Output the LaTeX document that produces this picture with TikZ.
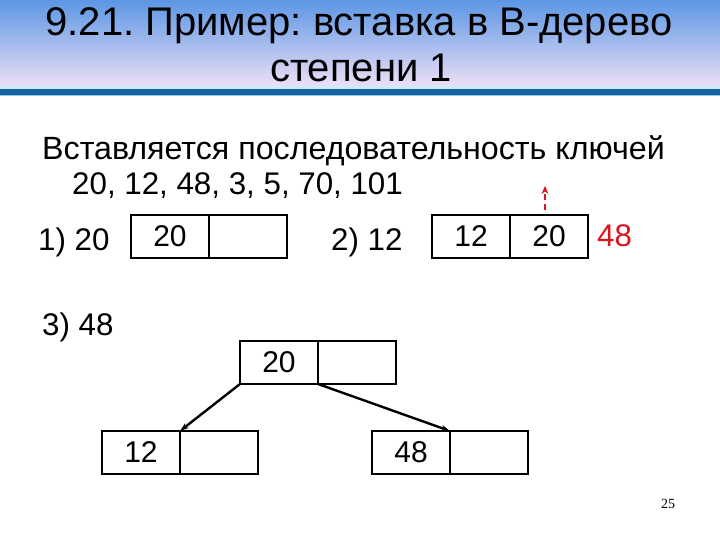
\documentclass[tikz,border=0pt]{standalone}
\usepackage{fontspec}
\setmainfont{Liberation Sans}
\newfontfamily\pgnumfont{Liberation Serif}
\frenchspacing
\usetikzlibrary{arrows.meta}
\definecolor{topblue}{RGB}{92,150,228}
\definecolor{lav}{RGB}{238,224,246}
\definecolor{barblue}{RGB}{26,99,160}
\definecolor{barcyan}{RGB}{120,210,240}
\definecolor{redk}{RGB}{220,20,30}
\tikzset{
  cell/.style={draw=black, line width=2pt, outer sep=0pt, minimum width=78pt, minimum height=43pt, inner sep=0pt, font=\fontsize{30}{30}\selectfont},
  lbl/.style={anchor=base west, inner sep=0pt, font=\fontsize{31.3}{31.3}\selectfont},
  ttl/.style={anchor=base, inner sep=0pt, font=\fontsize{40}{40}\selectfont},
  link/.style={line width=2.4pt, -{Stealth[length=9pt,width=6pt]}},
}
\begin{document}
\begin{tikzpicture}[x=1pt,y=-1pt]
\useasboundingbox (0,0) rectangle (720,540);
\fill[white] (0,0) rectangle (720,540);
\shade[top color=topblue, bottom color=lav] (0,0) rectangle (720,87);
\fill[barcyan!40] (0,86) rectangle (720,89);
\fill[barblue] (0,89) rectangle (720,95);
\fill[barcyan] (0,95) rectangle (720,96.5);
\node[ttl] (t1) at (359,36) {9.21. Пример: вставка в В-дерево};
\node[ttl] (t2) at (361,82) {степени 1};
\node[lbl, font=\fontsize{32.2}{32.2}\selectfont] (s1) at (42,160) {Вставляется последовательность ключей};
\node[lbl] (s2) at (72,195) {20, 12, 48, 3, 5, 70, 101};
% step 1
\node[lbl] (l1) at (38,250) {1) 20};
\node[cell] (a1) at (170,236.5) {20};
\node[cell, anchor=west] (a2) at (a1.east) {};
% step 2
\node[lbl] (l2) at (331,250) {2) 12};
\node[cell] (b1) at (471,236.5) {12};
\node[cell, anchor=west] (b2) at (b1.east) {20};
\node[lbl, text=redk] (r48) at (597,247) {48};
\coordinate (up) at (545,186);
\draw[redk, line width=2.4pt, dash pattern=on 6pt off 4pt, -{Stealth[length=8pt,width=7pt]}] (545,210) -- (up);
% step 3
\node[lbl] (l3) at (42,335) {3) 48};
\node[cell] (c1) at (279,362.5) {20};
\node[cell, anchor=west] (c2) at (c1.east) {};
\node[cell] (d1) at (141,452.5) {12};
\node[cell, anchor=west] (d2) at (d1.east) {};
\node[cell] (e1) at (411,452.5) {48};
\node[cell, anchor=west] (e2) at (e1.east) {};
\draw[link] (c1.south west) -- (d1.north east);
\draw[link] (c1.south east) -- (e1.north east);
\node[font=\fontsize{14}{14}\selectfont\pgnumfont, inner sep=0pt] (pg) at (668,504) {25};
\end{tikzpicture}
\end{document}
